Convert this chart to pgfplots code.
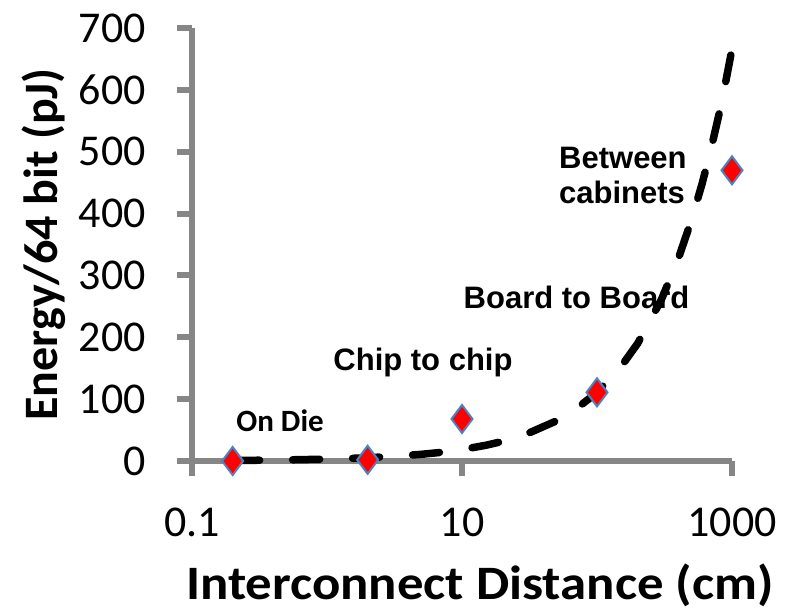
\documentclass[border=0pt]{standalone}
\usepackage{fontspec}
\setmainfont{Carlito}
\newfontfamily\arialf{Liberation Sans}
\usepackage{pgfplots}
\pgfplotsset{compat=1.18}

\definecolor{axisgray}{RGB}{134,134,134}
\definecolor{mkedge}{RGB}{79,129,189}

\begin{document}
\begin{tikzpicture}
\path[use as bounding box] (-192bp,-149bp) rectangle (604bp,461bp);
\begin{axis}[
    at={(0,0)}, anchor=south west,
    scale only axis, width=540bp, height=433bp,
    xmode=log, xmin=0.1, xmax=1000,
    ymin=0, ymax=700,
    axis x line=bottom, axis y line=left,
    axis line style={draw=axisgray, line width=6bp, -},
    xtick={0.1,10,1000}, xticklabels={0.1,10,1000},
    ytick={0,100,200,300,400,500,600,700},
    yticklabels={0,100,200,300,400,500,600,700},
    xminorticks=false, yminorticks=false,
    tick align=outside, major tick length=15bp,
    major tick style={draw=axisgray, line width=6bp},
    ticklabel style={font=\fontsize{44bp}{52bp}\selectfont, inner sep=0pt},
    xticklabel style={anchor=north, yshift=-32bp},
    yticklabel style={anchor=east, xshift=-31bp},
    clip=false,
]
% measured values
\addplot[only marks, mark=diamond*, mark size=14bp,
    mark options={fill=red, draw=mkedge, line width=2bp}]
    coordinates {(0.2,0) (2,2) (10,68) (100,111) (1000,470)};
% power-law trendline
\addplot[black, line width=7.5bp, line cap=round, line join=round,
    dash pattern=on 27bp off 33bp]
    coordinates {
    (0.2,0.88) (0.3,1.21) (0.5,1.80) (0.7,2.34) (1,3.09) (1.5,4.23)
    (2,5.29) (3,7.26) (5,10.8) (7,14.0) (10,18.5) (15,25.4) (20,31.7)
    (30,43.5) (50,64.8) (70,84.1) (100,111) (150,152) (200,190)
    (300,261) (400,327) (500,389) (600,448) (700,505) (800,560)
    (900,614) (1000,666)};

\node[anchor=base, font=\bfseries\fontsize{31bp}{36bp}\selectfont]
    at (axis cs:0.449,47) {On Die};
\node[anchor=base, font=\arialf\bfseries\fontsize{31bp}{36bp}\selectfont]
    at (axis cs:5.14,147) {Chip to chip};
\node[anchor=base, font=\arialf\bfseries\fontsize{31bp}{36bp}\selectfont]
    at (axis cs:70.5,247) {Board to Board};
\node[anchor=base west, inner sep=0pt, font=\arialf\bfseries\fontsize{31bp}{36bp}\selectfont]
    at (axis cs:52.3,473) {Between};
\node[anchor=base west, inner sep=0pt, font=\arialf\bfseries\fontsize{31bp}{36bp}\selectfont]
    at (axis cs:52.3,417) {cabinets};

\node[anchor=base, font=\bfseries\fontsize{48bp}{56bp}\selectfont, yshift=-138bp]
    at (rel axis cs:0.533,0) {\scalebox{1.1}[1]{Interconnect Distance (cm)}};
\node[xshift=-148bp, rotate=90, anchor=center, font=\bfseries\fontsize{48bp}{56bp}\selectfont]
    at (rel axis cs:0,0.5) {Energy/64 bit (pJ)};
\end{axis}
\end{tikzpicture}
\end{document}
